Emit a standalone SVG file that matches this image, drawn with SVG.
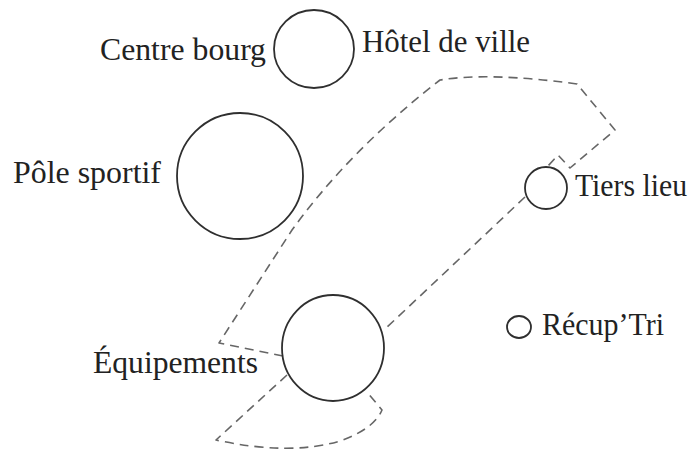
<svg xmlns="http://www.w3.org/2000/svg" width="693" height="452" viewBox="0 0 693 452">
<style>
.node{fill:none;stroke:#2f2f2f;stroke-width:1.8}
.lbl{font-family:"Liberation Serif","DejaVu Serif",serif;font-size:31px;fill:#222}
.dash{fill:none;stroke:#666;stroke-width:1.6;stroke-dasharray:9 6;stroke-linejoin:round}
</style>
<rect width="693" height="452" fill="#fff"/>
<g id="connectors">
<path class="dash" d="M283,356 L219,343 L292,230 Q350,150 440,80 Q490,72 577,84 L615,130 L570,168 L558,155 L548,166"/>
<path class="dash" d="M525,197 L384,330"/>
<path class="dash" d="M287,375 L216,440 Q290,456 340,441 Q374,429 382,410 L367,392"/>
</g>
<g id="centre-bourg">
<ellipse class="node" cx="314" cy="49" rx="40" ry="39"/>
<text class="lbl" x="100" y="60" textLength="166" lengthAdjust="spacingAndGlyphs">Centre bourg</text>
</g>
<g id="hotel-de-ville">
<text class="lbl" x="362" y="52" textLength="168" lengthAdjust="spacingAndGlyphs">Hôtel de ville</text>
</g>
<g id="pole-sportif">
<circle class="node" cx="240" cy="176" r="63"/>
<text class="lbl" x="13" y="183" textLength="148" lengthAdjust="spacingAndGlyphs">Pôle sportif</text>
</g>
<g id="tiers-lieu">
<ellipse class="node" cx="546" cy="188" rx="21" ry="21"/>
<text class="lbl" x="575" y="196" textLength="112" lengthAdjust="spacingAndGlyphs">Tiers lieu</text>
</g>
<g id="equipements">
<ellipse class="node" cx="333" cy="348" rx="51" ry="53"/>
<text class="lbl" x="93" y="373" textLength="165" lengthAdjust="spacingAndGlyphs">Équipements</text>
</g>
<g id="recup-tri">
<ellipse class="node" cx="519" cy="327" rx="12" ry="11"/>
<text class="lbl" x="542" y="335" textLength="122" lengthAdjust="spacingAndGlyphs">Récup’Tri</text>
</g>
</svg>
